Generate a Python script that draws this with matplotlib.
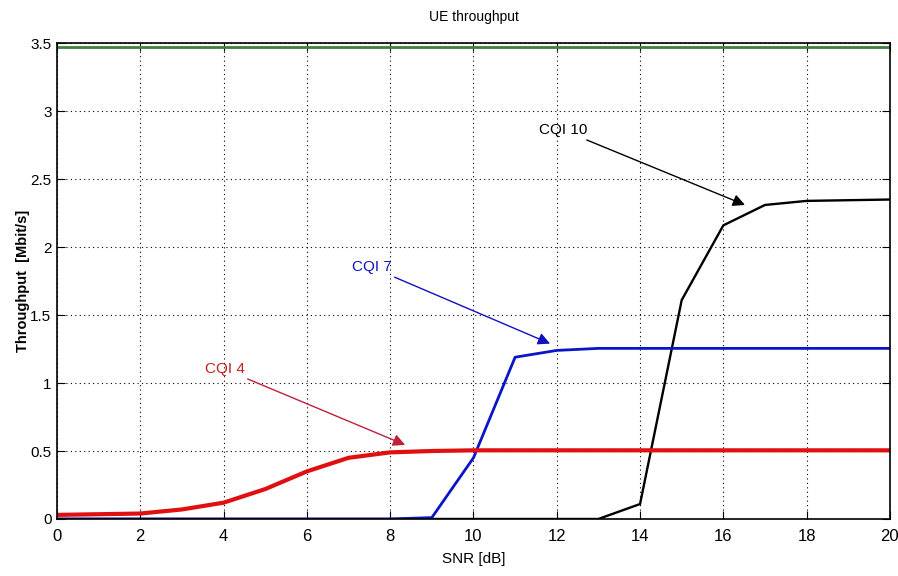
import matplotlib
matplotlib.use("Agg")
import matplotlib.pyplot as plt

plt.rcParams['font.family'] = ['Liberation Sans Narrow', 'Liberation Sans', 'DejaVu Sans']

snr = [0, 1, 2, 3, 4, 5, 6, 7, 8, 9, 10, 11, 12, 13, 14, 15, 16, 17, 18, 19, 20]
cqi4 = [0.03, 0.035, 0.04, 0.07, 0.12, 0.22, 0.35, 0.45, 0.49, 0.50, 0.505, 0.505, 0.505, 0.505,
        0.505, 0.505, 0.505, 0.505, 0.505, 0.505, 0.505]
cqi7 = [0, 0, 0, 0, 0, 0, 0, 0, 0, 0.01, 0.45, 1.19, 1.24, 1.255, 1.255, 1.255, 1.255, 1.255,
        1.255, 1.255, 1.255]
cqi10 = [0, 0, 0, 0, 0, 0, 0, 0, 0, 0, 0, 0, 0, 0, 0.11, 1.61, 2.16, 2.31, 2.34, 2.345, 2.35]
max_rate = 3.47

fig = plt.figure(figsize=(8.98, 5.76), dpi=100)
ax = fig.add_axes([0.0635, 0.099, 0.9275, 0.826])

ax.axhline(max_rate, color='#3f7f3f', lw=2)
ax.plot(snr, cqi10, color='black', lw=1.7)
ax.plot(snr, cqi7, color='#0a14c8', lw=2)
ax.plot(snr, cqi4, color='#e01010', lw=3)

ax.set_xlim(0, 20)
ax.set_ylim(0, 3.5)
ax.set_xticks(range(0, 21, 2))
ax.set_yticks([0, 0.5, 1, 1.5, 2, 2.5, 3, 3.5])
ax.set_yticklabels(['0', '0.5', '1', '1.5', '2', '2.5', '3', '3.5'])
ax.grid(True, color='black', linestyle=(0, (1, 3)), lw=0.8)
ax.tick_params(direction='in', top=True, right=True, length=6, labelsize=12)
ax.tick_params(axis='x', pad=7)
ax.tick_params(axis='y', labelsize=11, pad=4)
for s in ax.spines.values():
    s.set_linewidth(1.2)

ax.set_title('UE throughput', fontsize=10, pad=16)
ax.set_xlabel('SNR [dB]', fontsize=11, labelpad=6)
ax.set_ylabel('Throughput  [Mbit/s]', fontsize=10.5, fontweight='bold')
ax.yaxis.set_label_coords(-0.033, 0.5)

arrow = dict(arrowstyle='-|>', mutation_scale=18, lw=1, shrinkA=0, shrinkB=0)
ax.annotate('CQI 4', xy=(8.36, 0.545), xytext=(4.51, 1.10), ha='right', va='center',
            color='#c02020', fontsize=11,
            arrowprops=dict(arrow, color='#c0203a'))
ax.annotate('CQI 7', xy=(11.84, 1.29), xytext=(8.04, 1.85), ha='right', va='center',
            color='#1010c0', fontsize=11,
            arrowprops=dict(arrow, color='#1010c0'))
ax.annotate('CQI 10', xy=(16.52, 2.31), xytext=(12.73, 2.86), ha='right', va='center',
            color='black', fontsize=11,
            arrowprops=dict(arrow, color='black'))

fig.savefig('out.png', dpi=100)
